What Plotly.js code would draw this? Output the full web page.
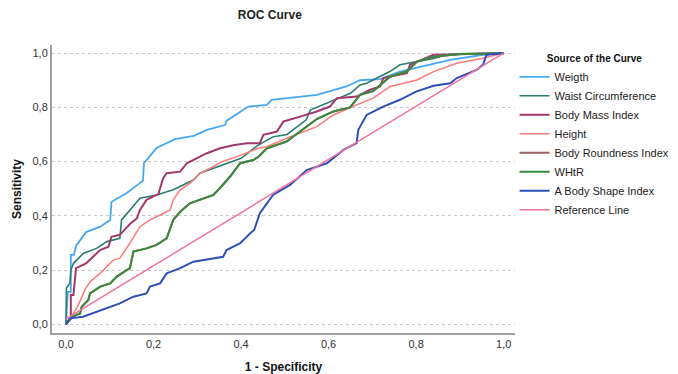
<!DOCTYPE html>
<html>
<head>
<meta charset="utf-8">
<script src="https://cdn.plot.ly/plotly-3.0.1.min.js"></script>
<style>html,body{margin:0;padding:0;background:#fff;}#chart{width:678px;height:374px;}</style>
</head>
<body>
<div id="chart"></div>
<script>
// Series names (legend order)
const seriesNames = ["Weigth", "Waist Circumference", "Body Mass Index", "Height", "Body Roundness Index", "WHtR", "A Body Shape Index", "Reference Line"];

// 1 - Specificity (x) and Sensitivity (y)
const weigthX = [0, 0.004, 0.011, 0.011, 0.018, 0.023, 0.046, 0.078, 0.101, 0.104, 0.139, 0.176, 0.178, 0.207, 0.249, 0.292, 0.322, 0.363, 0.367, 0.417, 0.459, 0.470, 0.573, 0.641, 0.672, 0.718, 0.763, 0.832, 0.878, 0.953, 1];
const weigthY = [0, 0.12, 0.12, 0.256, 0.256, 0.29, 0.34, 0.36, 0.385, 0.452, 0.484, 0.53, 0.594, 0.65, 0.683, 0.695, 0.717, 0.735, 0.751, 0.803, 0.809, 0.828, 0.846, 0.877, 0.90, 0.904, 0.932, 0.957, 0.975, 0.994, 1];

const waistX = [0, 0.001, 0.009, 0.011, 0.017, 0.04, 0.07, 0.093, 0.123, 0.127, 0.169, 0.207, 0.245, 0.291, 0.306, 0.367, 0.40, 0.44, 0.474, 0.505, 0.549, 0.558, 0.61, 0.65, 0.672, 0.687, 0.74, 0.763, 0.84, 0.87, 1];
const waistY = [0, 0.134, 0.152, 0.20, 0.225, 0.262, 0.28, 0.305, 0.317, 0.385, 0.465, 0.477, 0.496, 0.532, 0.557, 0.594, 0.612, 0.662, 0.692, 0.70, 0.754, 0.79, 0.826, 0.852, 0.883, 0.889, 0.932, 0.957, 0.98, 0.994, 1];

const bmiX = [0, 0.011, 0.011, 0.017, 0.023, 0.046, 0.078, 0.097, 0.104, 0.123, 0.137, 0.146, 0.162, 0.169, 0.184, 0.211, 0.222, 0.23, 0.261, 0.276, 0.322, 0.352, 0.382, 0.413, 0.443, 0.451, 0.482, 0.497, 0.535, 0.573, 0.603, 0.619, 0.664, 0.695, 0.718, 0.725, 0.779, 0.786, 0.84, 1];
const bmiY = [0, 0.02, 0.108, 0.108, 0.207, 0.225, 0.274, 0.286, 0.323, 0.33, 0.354, 0.37, 0.391, 0.422, 0.459, 0.48, 0.539, 0.557, 0.563, 0.594, 0.631, 0.649, 0.66, 0.668, 0.668, 0.699, 0.711, 0.748, 0.766, 0.785, 0.803, 0.834, 0.84, 0.865, 0.877, 0.908, 0.926, 0.957, 0.994, 1];

const heightX = [0, 0.017, 0.028, 0.043, 0.055, 0.078, 0.101, 0.108, 0.123, 0.146, 0.169, 0.192, 0.215, 0.238, 0.245, 0.261, 0.283, 0.306, 0.337, 0.356, 0.382, 0.44, 0.459, 0.504, 0.573, 0.611, 0.664, 0.702, 0.741, 0.802, 0.84, 0.893, 0.953, 1];
const heightY = [0, 0.04, 0.071, 0.127, 0.157, 0.188, 0.225, 0.237, 0.244, 0.299, 0.36, 0.385, 0.403, 0.422, 0.459, 0.496, 0.52, 0.557, 0.582, 0.60, 0.613, 0.649, 0.655, 0.686, 0.729, 0.772, 0.809, 0.834, 0.877, 0.901, 0.932, 0.963, 0.981, 1];

// Body Roundness Index coincides with WHtR in the picture (hidden beneath it)
const briX = [0, 0.013, 0.032, 0.036, 0.051, 0.055, 0.078, 0.101, 0.116, 0.146, 0.154, 0.184, 0.207, 0.23, 0.245, 0.261, 0.283, 0.337, 0.356, 0.375, 0.398, 0.428, 0.44, 0.459, 0.504, 0.535, 0.573, 0.611, 0.649, 0.672, 0.702, 0.741, 0.779, 0.802, 0.84, 0.9, 1];
const briY = [0, 0.028, 0.04, 0.065, 0.09, 0.114, 0.139, 0.151, 0.176, 0.207, 0.268, 0.28, 0.293, 0.317, 0.385, 0.415, 0.446, 0.477, 0.51, 0.545, 0.594, 0.606, 0.618, 0.649, 0.674, 0.711, 0.757, 0.785, 0.80, 0.846, 0.86, 0.914, 0.932, 0.969, 0.987, 0.997, 1];

const whtrX = [0, 0.013, 0.032, 0.036, 0.051, 0.055, 0.078, 0.101, 0.116, 0.146, 0.154, 0.184, 0.207, 0.23, 0.245, 0.261, 0.283, 0.337, 0.356, 0.375, 0.398, 0.428, 0.44, 0.459, 0.504, 0.535, 0.573, 0.611, 0.649, 0.672, 0.702, 0.741, 0.779, 0.802, 0.84, 0.9, 1];
const whtrY = [0, 0.028, 0.04, 0.065, 0.09, 0.114, 0.139, 0.151, 0.176, 0.207, 0.268, 0.28, 0.293, 0.317, 0.385, 0.415, 0.446, 0.477, 0.51, 0.545, 0.594, 0.606, 0.618, 0.649, 0.674, 0.711, 0.757, 0.785, 0.80, 0.846, 0.86, 0.914, 0.932, 0.969, 0.987, 0.997, 1];

const absiX = [0, 0.009, 0.039, 0.07, 0.101, 0.123, 0.154, 0.184, 0.192, 0.215, 0.23, 0.261, 0.291, 0.337, 0.359, 0.367, 0.398, 0.421, 0.43, 0.443, 0.473, 0.512, 0.55, 0.596, 0.634, 0.664, 0.668, 0.672, 0.687, 0.725, 0.763, 0.80, 0.84, 0.878, 0.893, 0.938, 0.953, 0.961, 1];
const absiY = [0, 0.022, 0.028, 0.046, 0.065, 0.077, 0.102, 0.114, 0.139, 0.151, 0.188, 0.207, 0.231, 0.244, 0.249, 0.274, 0.299, 0.336, 0.348, 0.41, 0.477, 0.514, 0.569, 0.594, 0.643, 0.668, 0.717, 0.729, 0.772, 0.803, 0.828, 0.858, 0.88, 0.889, 0.908, 0.938, 0.957, 0.994, 1];

const refX = [0, 1];
const refY = [0.02, 1];

// Axis ticks
const tickVals = [0, 0.2, 0.4, 0.6, 0.8, 1.0];
const tickText = ["0,0", "0,2", "0,4", "0,6", "0,8", "1,0"];

const colors = ["#45a8f0", "#2b7d6e", "#a3386f", "#ff7a78", "#9a6262", "#3a8a3e", "#2e4fba", "#f4729c"];
const widths = [1.8, 1.6, 2.0, 1.5, 2.0, 2.0, 2.0, 1.5];

const xs = [weigthX, waistX, bmiX, heightX, briX, whtrX, absiX, refX];
const ys = [weigthY, waistY, bmiY, heightY, briY, whtrY, absiY, refY];

const traces = seriesNames.map((n, i) => ({
  type: "scatter", mode: "lines", name: n, x: xs[i], y: ys[i],
  line: {color: colors[i], width: widths[i]}, hoverinfo: "skip"
}));

const font = "Liberation Sans, Arial, sans-serif";
const layout = {
  width: 678, height: 374,
  margin: {l: 52, r: 163, t: 45, b: 41, autoexpand: false},
  paper_bgcolor: "#fff", plot_bgcolor: "#fff",
  font: {family: font, size: 11, color: "#222"},
  title: {text: "<b>ROC Curve</b>", font: {family: font, size: 12, color: "#222"}, xref: "container", x: 0.398, xanchor: "center", yref: "container", y: 0.96, yanchor: "middle"},
  xaxis: {
    range: [-0.032, 1.026], tickvals: tickVals, ticktext: tickText, showgrid: false, zeroline: false,
    showline: true, linecolor: "#a0a0a0", linewidth: 2, ticks: "", tickfont: {size: 11, color: "#333"},
    title: {text: "<b>1 - Specificity</b>", font: {size: 12, color: "#111"}, standoff: 14}, automargin: false
  },
  yaxis: {
    range: [-0.032, 1.03], tickvals: tickVals, ticktext: tickText, showgrid: true, gridcolor: "#c8c8c8", griddash: "dot", gridwidth: 1,
    zeroline: false, showline: true, linecolor: "#a0a0a0", linewidth: 2, ticks: "", tickfont: {size: 11, color: "#333"},
    title: {text: "<b>Sensitivity</b>", font: {size: 12, color: "#111"}, standoff: 8}, automargin: false
  },
  legend: {
    x: 0.999, xanchor: "left", y: 0.985, yanchor: "top", bgcolor: "rgba(0,0,0,0)",
    font: {size: 11, color: "#222"}, tracegroupgap: 0,
    title: {text: "<b>Source of the Curve</b>", font: {size: 10, color: "#111"}, side: "top center"}
  },
  showlegend: true
};

Plotly.newPlot("chart", traces, layout, {displayModeBar: false, staticPlot: true});
</script>
</body>
</html>
